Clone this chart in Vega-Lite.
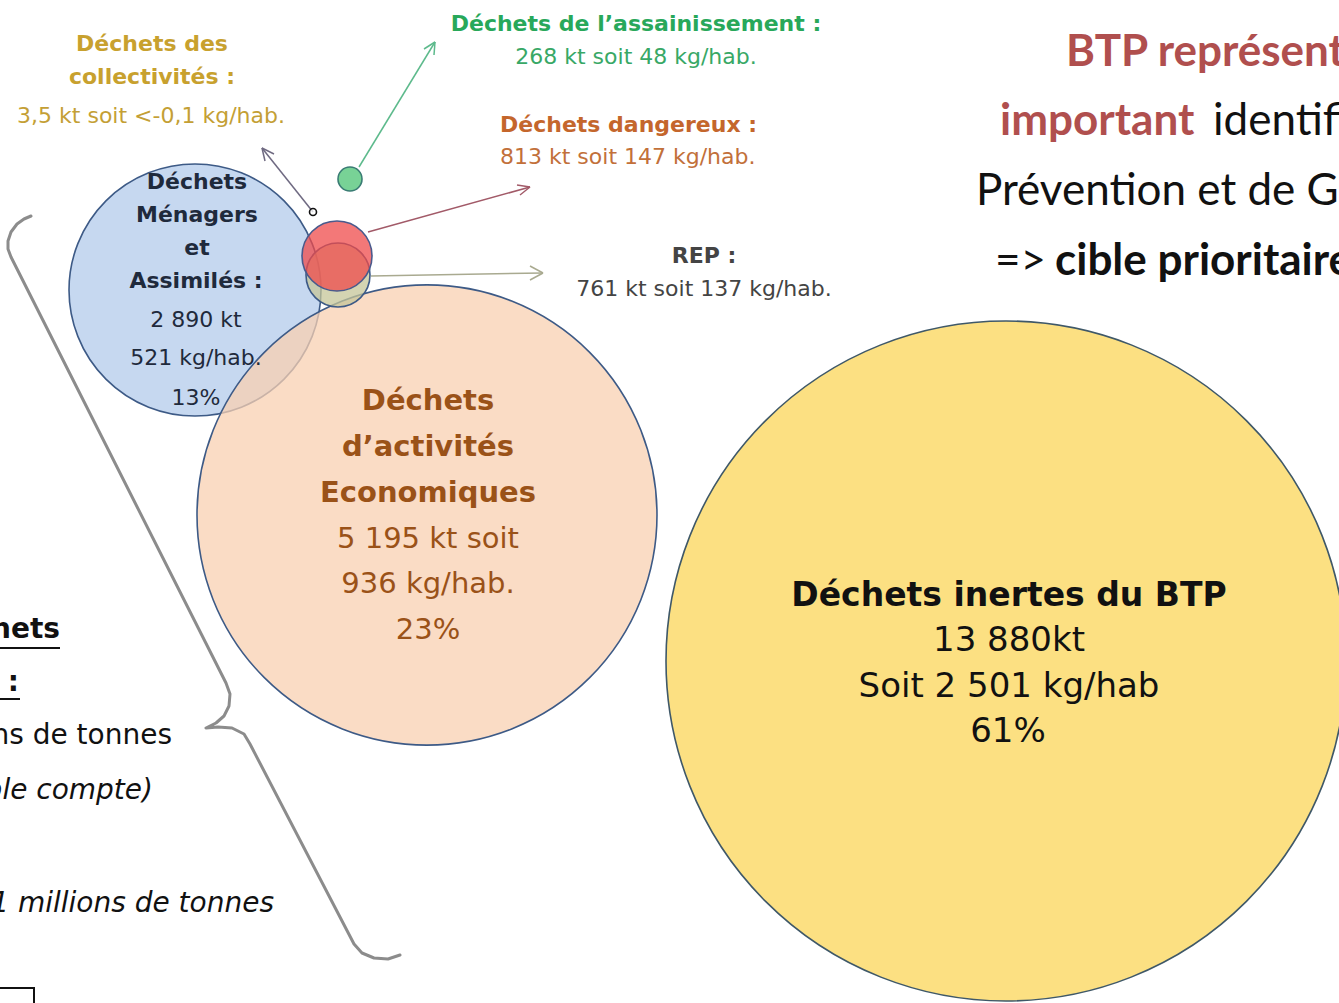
{
  "$schema": "https://vega.github.io/schema/vega-lite/v6.json",
  "width": 1339,
  "height": 1003,
  "autosize": "none",
  "padding": 0,
  "background": "white",
  "config": {"view": {"stroke": null}},
  "layer": [
    {
      "data": {"values": [
        {"i":0,"x":31,"y":216},{"i":1,"x":24,"y":219},{"i":2,"x":17,"y":224},{"i":3,"x":11,"y":232},{"i":4,"x":8,"y":241},{"i":5,"x":8,"y":249},{"i":6,"x":11,"y":257},
        {"i":7,"x":226,"y":683},{"i":8,"x":230,"y":694},{"i":9,"x":229,"y":706},{"i":10,"x":224,"y":716},{"i":11,"x":216,"y":723},{"i":12,"x":206,"y":728},
        {"i":13,"x":218,"y":727},{"i":14,"x":232,"y":728},{"i":15,"x":244,"y":734},{"i":16,"x":250,"y":744},
        {"i":17,"x":354,"y":944},{"i":18,"x":362,"y":953},{"i":19,"x":374,"y":958},{"i":20,"x":388,"y":959},{"i":21,"x":400,"y":955}
      ]},
      "mark": {"type": "line", "color": "#8c8c8c", "strokeWidth": 3, "strokeCap": "round", "strokeJoin": "round"},
      "encoding": {
        "x": {"field": "x", "type": "quantitative", "scale": {"domain": [0, 1339], "nice": false, "zero": false}, "axis": null},
        "y": {"field": "y", "type": "quantitative", "scale": {"domain": [0, 1003], "nice": false, "zero": false, "reverse": true}, "axis": null},
        "order": {"field": "i", "type": "quantitative"}
      }
    },
    {
      "data": {"values": [{"x": -5, "x2": 34, "y": 988, "y2": 1010}]},
      "mark": {"type": "rect", "fill": "white", "stroke": "#111", "strokeWidth": 2},
      "encoding": {
        "x": {"field": "x", "type": "quantitative", "scale": {"domain": [0, 1339], "nice": false, "zero": false}, "axis": null},
        "x2": {"field": "x2"},
        "y": {"field": "y", "type": "quantitative", "scale": {"domain": [0, 1003], "nice": false, "zero": false, "reverse": true}, "axis": null},
        "y2": {"field": "y2"}
      }
    },
    {
      "data": {"values": [
        {"a":"collectivites","x":313,"y":212,"x2":262,"y2":148},
        {"a":"collectivites","x":262,"y":148,"x2":265,"y2":161},
        {"a":"collectivites","x":262,"y":148,"x2":274,"y2":154},
        {"a":"assainissement","x":359,"y":167,"x2":435,"y2":42},
        {"a":"assainissement","x":435,"y":42,"x2":424,"y2":49},
        {"a":"assainissement","x":435,"y":42,"x2":434,"y2":55},
        {"a":"dangereux","x":368,"y":232,"x2":530,"y2":187},
        {"a":"dangereux","x":530,"y":187,"x2":517,"y2":185},
        {"a":"dangereux","x":530,"y":187,"x2":520,"y2":195},
        {"a":"rep","x":371,"y":276,"x2":543,"y2":273},
        {"a":"rep","x":543,"y":273,"x2":530,"y2":266},
        {"a":"rep","x":543,"y":273,"x2":530,"y2":280}
      ]},
      "mark": {"type": "rule", "strokeWidth": 1.5},
      "encoding": {
        "x": {"field": "x", "type": "quantitative", "scale": {"domain": [0, 1339], "nice": false, "zero": false}, "axis": null},
        "x2": {"field": "x2"},
        "y": {"field": "y", "type": "quantitative", "scale": {"domain": [0, 1003], "nice": false, "zero": false, "reverse": true}, "axis": null},
        "y2": {"field": "y2"},
        "color": {"field": "a", "type": "nominal", "legend": null,
          "scale": {"domain": ["collectivites", "assainissement", "dangereux", "rep"], "range": ["#6f6a82", "#5dba8c", "#a25a68", "#a9aa90"]}}
      }
    },
    {
      "data": {"values": [
        {"name":"BTP","kt":13880,"x":1006,"y":661},
        {"name":"DMA","kt":2890,"x":195,"y":290},
        {"name":"DAE","kt":5195,"x":427,"y":515},
        {"name":"REP","kt":761,"x":338,"y":275},
        {"name":"Dangereux","kt":813,"x":337,"y":256},
        {"name":"Assainissement","kt":268,"x":350,"y":179},
        {"name":"Collectivites","kt":3.5,"x":313,"y":212}
      ]},
      "mark": {"type": "circle", "opacity": 1, "fillOpacity": 0.75, "strokeWidth": 1.6},
      "encoding": {
        "x": {"field": "x", "type": "quantitative", "scale": {"domain": [0, 1339], "nice": false, "zero": false}, "axis": null},
        "y": {"field": "y", "type": "quantitative", "scale": {"domain": [0, 1003], "nice": false, "zero": false, "reverse": true}, "axis": null},
        "size": {"field": "kt", "type": "quantitative", "legend": null,
          "scale": {"type": "linear", "zero": false, "nice": false, "domain": [3.5, 268, 761, 813, 2890, 5195, 13880], "range": [49, 576, 4096, 4900, 63504, 211600, 462400]}},
        "fill": {"field": "name", "type": "nominal", "legend": null,
          "scale": {"domain": ["BTP", "DMA", "DAE", "REP", "Dangereux", "Assainissement", "Collectivites"],
                    "range": ["#fbd658", "#b3cbeb", "#f8d0b2", "#c6c698", "#ef4b4b", "#4bc373", "#ffffff"]}},
        "stroke": {"field": "name", "type": "nominal", "legend": null,
          "scale": {"domain": ["BTP", "DMA", "DAE", "REP", "Dangereux", "Assainissement", "Collectivites"],
                    "range": ["#3f5868", "#3d5a86", "#3d5a86", "#3d5a86", "#4a5a8c", "#3a7c74", "#111111"]}}
      }
    },
    {
      "data": {"values": [{"x": 0, "x2": 60, "y": 648, "y2": 648}, {"x": 0, "x2": 20, "y": 699, "y2": 699}]},
      "mark": {"type": "rule", "strokeWidth": 2, "color": "#111"},
      "encoding": {
        "x": {"field": "x", "type": "quantitative", "scale": {"domain": [0, 1339], "nice": false, "zero": false}, "axis": null},
        "x2": {"field": "x2"},
        "y": {"field": "y", "type": "quantitative", "scale": {"domain": [0, 1003], "nice": false, "zero": false, "reverse": true}, "axis": null},
        "y2": {"field": "y2"}
      }
    },
    {
      "data": {"values": [{"t":"Déchets des","x":152,"y":44},{"t":"collectivités :","x":152,"y":77}]},
      "mark": {"type": "text", "font": "DejaVu Sans", "fontSize": 22, "fontWeight": "bold", "color": "#c8a12e", "align": "center", "baseline": "middle"},
      "encoding": {
        "x": {"field": "x", "type": "quantitative", "scale": {"domain": [0, 1339], "nice": false, "zero": false}, "axis": null},
        "y": {"field": "y", "type": "quantitative", "scale": {"domain": [0, 1003], "nice": false, "zero": false, "reverse": true}, "axis": null},
        "text": {"field": "t"}
      }
    },
    {
      "data": {"values": [{"t":"3,5 kt soit <-0,1 kg/hab.","x":151,"y":116}]},
      "mark": {"type": "text", "font": "DejaVu Sans", "fontSize": 22, "color": "#c49f35", "align": "center", "baseline": "middle"},
      "encoding": {
        "x": {"field": "x", "type": "quantitative", "scale": {"domain": [0, 1339], "nice": false, "zero": false}, "axis": null},
        "y": {"field": "y", "type": "quantitative", "scale": {"domain": [0, 1003], "nice": false, "zero": false, "reverse": true}, "axis": null},
        "text": {"field": "t"}
      }
    },
    {
      "data": {"values": [{"t":"Déchets de l’assainissement :","x":636,"y":24}]},
      "mark": {"type": "text", "font": "DejaVu Sans", "fontSize": 22, "fontWeight": "bold", "color": "#28a85a", "align": "center", "baseline": "middle"},
      "encoding": {
        "x": {"field": "x", "type": "quantitative", "scale": {"domain": [0, 1339], "nice": false, "zero": false}, "axis": null},
        "y": {"field": "y", "type": "quantitative", "scale": {"domain": [0, 1003], "nice": false, "zero": false, "reverse": true}, "axis": null},
        "text": {"field": "t"}
      }
    },
    {
      "data": {"values": [{"t":"268 kt soit 48 kg/hab.","x":636,"y":57}]},
      "mark": {"type": "text", "font": "DejaVu Sans", "fontSize": 22, "color": "#38a866", "align": "center", "baseline": "middle"},
      "encoding": {
        "x": {"field": "x", "type": "quantitative", "scale": {"domain": [0, 1339], "nice": false, "zero": false}, "axis": null},
        "y": {"field": "y", "type": "quantitative", "scale": {"domain": [0, 1003], "nice": false, "zero": false, "reverse": true}, "axis": null},
        "text": {"field": "t"}
      }
    },
    {
      "data": {"values": [{"t":"Déchets dangereux :","x":500,"y":125}]},
      "mark": {"type": "text", "font": "DejaVu Sans", "fontSize": 22, "fontWeight": "bold", "color": "#c4662c", "align": "left", "baseline": "middle"},
      "encoding": {
        "x": {"field": "x", "type": "quantitative", "scale": {"domain": [0, 1339], "nice": false, "zero": false}, "axis": null},
        "y": {"field": "y", "type": "quantitative", "scale": {"domain": [0, 1003], "nice": false, "zero": false, "reverse": true}, "axis": null},
        "text": {"field": "t"}
      }
    },
    {
      "data": {"values": [{"t":"813 kt soit 147 kg/hab.","x":500,"y":157}]},
      "mark": {"type": "text", "font": "DejaVu Sans", "fontSize": 22, "color": "#c2703a", "align": "left", "baseline": "middle"},
      "encoding": {
        "x": {"field": "x", "type": "quantitative", "scale": {"domain": [0, 1339], "nice": false, "zero": false}, "axis": null},
        "y": {"field": "y", "type": "quantitative", "scale": {"domain": [0, 1003], "nice": false, "zero": false, "reverse": true}, "axis": null},
        "text": {"field": "t"}
      }
    },
    {
      "data": {"values": [{"t":"REP :","x":704,"y":256}]},
      "mark": {"type": "text", "font": "DejaVu Sans", "fontSize": 22, "fontWeight": "bold", "color": "#444444", "align": "center", "baseline": "middle"},
      "encoding": {
        "x": {"field": "x", "type": "quantitative", "scale": {"domain": [0, 1339], "nice": false, "zero": false}, "axis": null},
        "y": {"field": "y", "type": "quantitative", "scale": {"domain": [0, 1003], "nice": false, "zero": false, "reverse": true}, "axis": null},
        "text": {"field": "t"}
      }
    },
    {
      "data": {"values": [{"t":"761 kt soit 137 kg/hab.","x":704,"y":289}]},
      "mark": {"type": "text", "font": "DejaVu Sans", "fontSize": 22, "color": "#444444", "align": "center", "baseline": "middle"},
      "encoding": {
        "x": {"field": "x", "type": "quantitative", "scale": {"domain": [0, 1339], "nice": false, "zero": false}, "axis": null},
        "y": {"field": "y", "type": "quantitative", "scale": {"domain": [0, 1003], "nice": false, "zero": false, "reverse": true}, "axis": null},
        "text": {"field": "t"}
      }
    },
    {
      "data": {"values": [{"t":"Déchets","x":197,"y":182},{"t":"Ménagers","x":197,"y":215},{"t":"et","x":197,"y":248},{"t":"Assimilés :","x":196,"y":281}]},
      "mark": {"type": "text", "font": "DejaVu Sans", "fontSize": 22, "fontWeight": "bold", "color": "#1f2a3c", "align": "center", "baseline": "middle"},
      "encoding": {
        "x": {"field": "x", "type": "quantitative", "scale": {"domain": [0, 1339], "nice": false, "zero": false}, "axis": null},
        "y": {"field": "y", "type": "quantitative", "scale": {"domain": [0, 1003], "nice": false, "zero": false, "reverse": true}, "axis": null},
        "text": {"field": "t"}
      }
    },
    {
      "data": {"values": [{"t":"2 890 kt","x":196,"y":320},{"t":"521 kg/hab.","x":196,"y":358},{"t":"13%","x":196,"y":398}]},
      "mark": {"type": "text", "font": "DejaVu Sans", "fontSize": 22, "color": "#1f2a3c", "align": "center", "baseline": "middle"},
      "encoding": {
        "x": {"field": "x", "type": "quantitative", "scale": {"domain": [0, 1339], "nice": false, "zero": false}, "axis": null},
        "y": {"field": "y", "type": "quantitative", "scale": {"domain": [0, 1003], "nice": false, "zero": false, "reverse": true}, "axis": null},
        "text": {"field": "t"}
      }
    },
    {
      "data": {"values": [{"t":"Déchets","x":428,"y":401},{"t":"d’activités","x":428,"y":447},{"t":"Economiques","x":428,"y":493}]},
      "mark": {"type": "text", "font": "DejaVu Sans", "fontSize": 29, "fontWeight": "bold", "color": "#9a5218", "align": "center", "baseline": "middle"},
      "encoding": {
        "x": {"field": "x", "type": "quantitative", "scale": {"domain": [0, 1339], "nice": false, "zero": false}, "axis": null},
        "y": {"field": "y", "type": "quantitative", "scale": {"domain": [0, 1003], "nice": false, "zero": false, "reverse": true}, "axis": null},
        "text": {"field": "t"}
      }
    },
    {
      "data": {"values": [{"t":"5 195 kt soit","x":428,"y":539},{"t":"936 kg/hab.","x":428,"y":584},{"t":"23%","x":428,"y":630}]},
      "mark": {"type": "text", "font": "DejaVu Sans", "fontSize": 29, "color": "#9a5218", "align": "center", "baseline": "middle"},
      "encoding": {
        "x": {"field": "x", "type": "quantitative", "scale": {"domain": [0, 1339], "nice": false, "zero": false}, "axis": null},
        "y": {"field": "y", "type": "quantitative", "scale": {"domain": [0, 1003], "nice": false, "zero": false, "reverse": true}, "axis": null},
        "text": {"field": "t"}
      }
    },
    {
      "data": {"values": [{"t":"Déchets inertes du BTP","x":1009,"y":596}]},
      "mark": {"type": "text", "font": "DejaVu Sans", "fontSize": 33, "fontWeight": "bold", "color": "#111111", "align": "center", "baseline": "middle"},
      "encoding": {
        "x": {"field": "x", "type": "quantitative", "scale": {"domain": [0, 1339], "nice": false, "zero": false}, "axis": null},
        "y": {"field": "y", "type": "quantitative", "scale": {"domain": [0, 1003], "nice": false, "zero": false, "reverse": true}, "axis": null},
        "text": {"field": "t"}
      }
    },
    {
      "data": {"values": [{"t":"13 880kt","x":1009,"y":641},{"t":"Soit 2 501 kg/hab","x":1009,"y":687},{"t":"61%","x":1008,"y":732}]},
      "mark": {"type": "text", "font": "DejaVu Sans", "fontSize": 34, "color": "#111111", "align": "center", "baseline": "middle"},
      "encoding": {
        "x": {"field": "x", "type": "quantitative", "scale": {"domain": [0, 1339], "nice": false, "zero": false}, "axis": null},
        "y": {"field": "y", "type": "quantitative", "scale": {"domain": [0, 1003], "nice": false, "zero": false, "reverse": true}, "axis": null},
        "text": {"field": "t"}
      }
    },
    {
      "data": {"values": [{"t":"BTP représente","x":1066,"y":53},{"t":"important","x":1000,"y":122}]},
      "mark": {"type": "text", "font": "Lato", "fontSize": 44, "fontWeight": "bold", "color": "#b04f4e", "align": "left", "baseline": "middle"},
      "encoding": {
        "x": {"field": "x", "type": "quantitative", "scale": {"domain": [0, 1339], "nice": false, "zero": false}, "axis": null},
        "y": {"field": "y", "type": "quantitative", "scale": {"domain": [0, 1003], "nice": false, "zero": false, "reverse": true}, "axis": null},
        "text": {"field": "t"}
      }
    },
    {
      "data": {"values": [{"t":"identifié par le Plan","x":1213,"y":122},{"t":"Prévention et de Gestion","x":976,"y":192},{"t":"=>","x":995,"y":262}]},
      "mark": {"type": "text", "font": "Lato", "fontSize": 44, "color": "#111111", "align": "left", "baseline": "middle"},
      "encoding": {
        "x": {"field": "x", "type": "quantitative", "scale": {"domain": [0, 1339], "nice": false, "zero": false}, "axis": null},
        "y": {"field": "y", "type": "quantitative", "scale": {"domain": [0, 1003], "nice": false, "zero": false, "reverse": true}, "axis": null},
        "text": {"field": "t"}
      }
    },
    {
      "data": {"values": [{"t":"cible prioritaire","x":1055,"y":262}]},
      "mark": {"type": "text", "font": "Lato", "fontSize": 44, "fontWeight": "bold", "color": "#111111", "align": "left", "baseline": "middle"},
      "encoding": {
        "x": {"field": "x", "type": "quantitative", "scale": {"domain": [0, 1339], "nice": false, "zero": false}, "axis": null},
        "y": {"field": "y", "type": "quantitative", "scale": {"domain": [0, 1003], "nice": false, "zero": false, "reverse": true}, "axis": null},
        "text": {"field": "t"}
      }
    },
    {
      "data": {"values": [{"t":"Déchets","x":60,"y":630},{"t":"total :","x":19,"y":683}]},
      "mark": {"type": "text", "font": "DejaVu Sans", "fontSize": 28, "fontWeight": "bold", "color": "#111111", "align": "right", "baseline": "middle"},
      "encoding": {
        "x": {"field": "x", "type": "quantitative", "scale": {"domain": [0, 1339], "nice": false, "zero": false}, "axis": null},
        "y": {"field": "y", "type": "quantitative", "scale": {"domain": [0, 1003], "nice": false, "zero": false, "reverse": true}, "axis": null},
        "text": {"field": "t"}
      }
    },
    {
      "data": {"values": [{"t":"22 millions de tonnes","x":172,"y":736}]},
      "mark": {"type": "text", "font": "DejaVu Sans", "fontSize": 28, "color": "#111111", "align": "right", "baseline": "middle"},
      "encoding": {
        "x": {"field": "x", "type": "quantitative", "scale": {"domain": [0, 1339], "nice": false, "zero": false}, "axis": null},
        "y": {"field": "y", "type": "quantitative", "scale": {"domain": [0, 1003], "nice": false, "zero": false, "reverse": true}, "axis": null},
        "text": {"field": "t"}
      }
    },
    {
      "data": {"values": [{"t":"(sans double compte)","x":153,"y":791},{"t":"21 millions de tonnes","x":274,"y":904}]},
      "mark": {"type": "text", "font": "DejaVu Sans", "fontSize": 28, "fontStyle": "italic", "color": "#111111", "align": "right", "baseline": "middle"},
      "encoding": {
        "x": {"field": "x", "type": "quantitative", "scale": {"domain": [0, 1339], "nice": false, "zero": false}, "axis": null},
        "y": {"field": "y", "type": "quantitative", "scale": {"domain": [0, 1003], "nice": false, "zero": false, "reverse": true}, "axis": null},
        "text": {"field": "t"}
      }
    }
  ]
}
